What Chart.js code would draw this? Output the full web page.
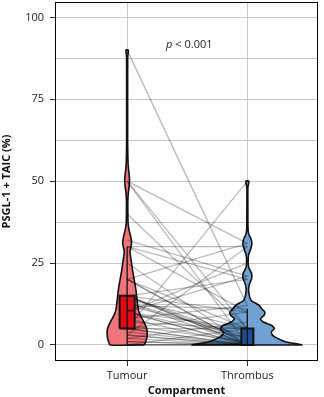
<!DOCTYPE html>
<html>
<head>
<meta charset="utf-8">
<script src="https://cdn.jsdelivr.net/npm/chart.js@4.4.1/dist/chart.umd.min.js"></script>
<style>
html,body{margin:0;padding:0;background:#fff;}
#wrap{width:324px;height:397px;position:relative;}
</style>
</head>
<body>
<div id="wrap"><canvas id="c"></canvas></div>
<script>
// ---------- data ----------
const categories = ['Tumour', 'Thrombus'];
const yTickLabels = [0, 25, 50, 75, 100];
const yGridValues = [0, 12.5, 25, 37.5, 50, 62.5, 75, 87.5, 100];

// paired observations (same index = same patient)
const tumourValues   = [90, 50, 50, 50, 40, 5, 32, 30, 30, 30, 13, 25, 20, 20, 15, 20, 20, 14, 15, 15, 15, 15, 15, 13, 12, 12, 10, 10, 10, 10, 10, 10, 8, 8, 7, 6, 5, 5, 5, 5, 4, 3, 3, 2, 1, 0, 0, 0, 0, 2, 3, 1];
const thrombusValues = [12, 31, 0, 5, 5, 50, 21, 30, 20, 10, 2, 0, 31, 5, 2, 0, 0, 5, 20, 1, 0, 0, 10, 0, 11, 3, 25, 21, 5, 0, 0, 2, 12, 0, 5, 1, 5, 0, 0, 10, 0, 30, 0, 7, 0, 5, 0, 0, 0, 0, 0, 0];

// violin density profiles (relative density at each y level)
const tumourDensityY = [0, 1, 2, 3.5, 5, 6.5, 8, 9.5, 11, 14, 17, 20, 23, 26, 28.5, 30, 31.5, 33, 35, 37, 40, 44, 46.5, 48.5, 50.5, 52.5, 55, 58, 62, 70, 80, 88, 90];
const tumourDensity  = [17, 18.5, 19.5, 20, 19.5, 17.5, 15, 12.5, 11, 9.8, 8.7, 7, 5.3, 3.9, 2.8, 3.9, 4.4, 3.6, 2, 1, 0.7, 0.7, 1.2, 2, 2.4, 1.8, 1, 0.7, 0.5, 0.5, 0.5, 0.6, 1.2];
const thrombusDensityY = [0, 0.5, 1, 2, 3, 4, 5, 6, 7, 8, 9, 10, 11, 12, 12.8, 13.5, 15, 17, 18.5, 20, 21, 22, 23.5, 25, 27.5, 29.5, 31, 32.5, 34, 36, 42, 48, 50];
const thrombusDensity  = [55, 46, 38, 30, 25, 24, 27, 24, 16, 13, 16.5, 17.5, 14.5, 12, 8, 4, 2, 1.2, 2, 4, 4.5, 4, 1.5, 0.8, 1.2, 3.5, 4.5, 3.5, 1.2, 0.6, 0.5, 0.5, 1.5];

// box plot statistics
const boxQ1 = [5, 0];
const boxMedian = [10.5, 0];
const boxQ3 = [15, 5];
const whiskerLow = [0, 0];
const whiskerHigh = [30, 11];

const pValueLabel = ['p', ' < 0.001'];

// ---------- styling ----------
const DENSITY_TO_X = 1 / 120;
const BOX_HALF = [0.0625, 0.05];
const violinColors = ['#f0757b', '#72a2d4'];
const boxColors = ['#e30a17', '#1d4f96'];
const FONT = "'Open Sans', 'Noto Sans', sans-serif";

function violinPolygon(cx, ys, ds) {
  const pts = [];
  for (let i = 0; i < ys.length; i++) pts.push({x: cx + ds[i] * DENSITY_TO_X, y: ys[i]});
  for (let i = ys.length - 1; i >= 0; i--) pts.push({x: cx - ds[i] * DENSITY_TO_X, y: ys[i]});
  pts.push({x: pts[0].x, y: pts[0].y});
  return pts;
}
function boxPolygon(cx, hw, lo, hi) {
  return [{x: cx - hw, y: lo}, {x: cx + hw, y: lo}, {x: cx + hw, y: hi}, {x: cx - hw, y: hi}, {x: cx - hw, y: lo}];
}

const datasets = [];
const violins = [[tumourDensityY, tumourDensity], [thrombusDensityY, thrombusDensity]];
violins.forEach((v, i) => {
  datasets.push({
    data: violinPolygon(i + 1, v[0], v[1]),
    showLine: true, fill: 'shape', backgroundColor: violinColors[i],
    borderColor: '#111', borderWidth: 1.6, pointRadius: 0, tension: 0.2, order: 5
  });
});
tumourValues.forEach((t, i) => {
  datasets.push({
    data: [{x: 1, y: t}, {x: 2, y: thrombusValues[i]}],
    showLine: true, fill: false, borderColor: 'rgba(0,0,0,0.27)', borderWidth: 1.3,
    pointRadius: 0, order: 4
  });
});
categories.forEach((c, i) => {
  datasets.push({
    data: boxPolygon(i + 1, BOX_HALF[i], boxQ1[i], boxQ3[i]),
    showLine: true, fill: 'shape', backgroundColor: boxColors[i],
    borderColor: '#111', borderWidth: 2, pointRadius: 0, order: 3
  });
  datasets.push({
    data: [{x: i + 1, y: whiskerLow[i]}, {x: i + 1, y: whiskerHigh[i]}],
    showLine: true, fill: false, borderColor: '#111', borderWidth: 1.3, pointRadius: 0, order: 2
  });
  datasets.push({
    data: [{x: i + 1, y: boxMedian[i]}, {x: i + 1 + BOX_HALF[i], y: boxMedian[i]}],
    showLine: true, fill: false, borderColor: '#111', borderWidth: 1.5, pointRadius: 0, order: 1
  });
});

const framePlugin = {
  id: 'frame',
  afterDraw(chart) {
    const {ctx, chartArea: a} = chart;
    ctx.save();
    ctx.strokeStyle = '#000';
    ctx.lineWidth = 1;
    ctx.strokeRect(Math.round(a.left) + 0.5, Math.round(a.top) + 0.5, Math.round(a.right - a.left) - 1, Math.round(a.bottom - a.top) - 1);
    ctx.restore();
  }
};
const pPlugin = {
  id: 'pval',
  afterDatasetsDraw(chart) {
    const {ctx, scales} = chart;
    const cx = scales.x.getPixelForValue(1.517);
    const cy = scales.y.getPixelForValue(91.7);
    ctx.save();
    ctx.textBaseline = 'middle';
    ctx.fillStyle = '#1a1a2e';
    ctx.font = 'italic 11px ' + FONT;
    const w1 = ctx.measureText(pValueLabel[0]).width;
    ctx.font = '11px ' + FONT;
    const w2 = ctx.measureText(pValueLabel[1]).width;
    const sx = cx - (w1 + w2) / 2;
    ctx.font = 'italic 11px ' + FONT;
    ctx.fillText(pValueLabel[0], sx, cy);
    ctx.font = '11px ' + FONT;
    ctx.fillText(pValueLabel[1], sx + w1, cy);
    ctx.restore();
  }
};

Chart.defaults.font.family = FONT;
Chart.defaults.font.size = 11;

new Chart(document.getElementById('c'), {
  type: 'scatter',
  data: {datasets},
  options: {
    responsive: true,
    maintainAspectRatio: false,
    animation: false,
    events: [],
    layout: {padding: {top: 2, right: 6, left: 0, bottom: 0}},
    plugins: {legend: {display: false}, tooltip: {enabled: false}},
    scales: {
      x: {
        type: 'linear', min: 0.4, max: 2.5875,
        afterBuildTicks: s => { s.ticks = categories.map((c, i) => ({value: i + 1})); },
        afterFit: s => { s.height = 36; s.paddingLeft = 0; s.paddingRight = 0; },
        ticks: {callback: (v, i) => categories[i], padding: 3, color: '#222233', autoSkip: false, maxRotation: 0},
        grid: {color: '#c6c6c6', lineWidth: 1, tickLength: 5, tickColor: '#333'},
        border: {display: false},
        title: {display: true, text: 'Compartment', color: '#111', font: {size: 11, weight: 'bold'}, padding: 0}
      },
      y: {
        type: 'linear', min: -4.9, max: 104.7,
        afterBuildTicks: s => { s.ticks = yGridValues.map(v => ({value: v})); },
        afterFit: s => { s.width = 55; s.paddingTop = 0; s.paddingBottom = 0; },
        ticks: {callback: v => yTickLabels.includes(v) ? String(v) : '', padding: 6, color: '#222233', autoSkip: false},
        grid: {color: '#c6c6c6', lineWidth: 1, tickLength: 5, tickColor: ctx => (ctx.tick && yTickLabels.includes(ctx.tick.value)) ? '#333' : 'rgba(0,0,0,0)'},
        border: {display: false},
        title: {display: true, text: 'PSGL-1 + TAIC (%)', color: '#111', font: {size: 11, weight: 'bold'}, padding: 0}
      }
    }
  },
  plugins: [framePlugin, pPlugin]
});
</script>
</body>
</html>
